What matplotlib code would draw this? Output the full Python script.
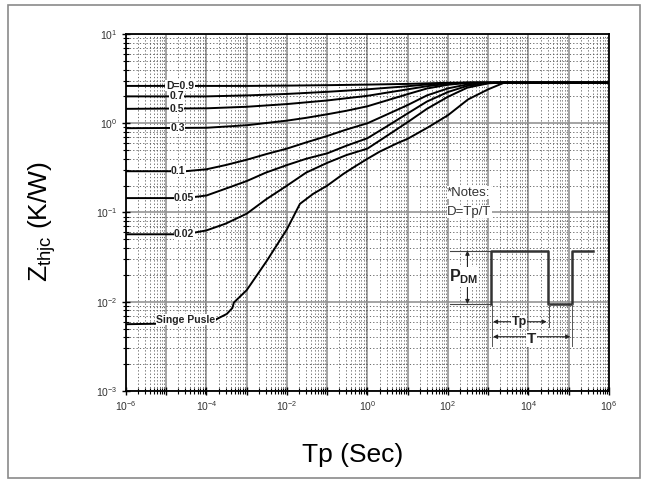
import numpy as np
import matplotlib
matplotlib.use('Agg')
import matplotlib.pyplot as plt
from matplotlib.patches import Rectangle
from matplotlib.ticker import LogLocator, NullFormatter

plt.rcParams['font.family'] = ['Liberation Sans', 'DejaVu Sans']
plt.rcParams['mathtext.fontset'] = 'custom'
plt.rcParams['mathtext.rm'] = 'Liberation Sans'
plt.rcParams['mathtext.it'] = 'Liberation Sans:italic'
plt.rcParams['mathtext.bf'] = 'Liberation Sans:bold'

# transient thermal impedance curves (Tp in s, Zthjc in K/W)
tp_d09 = [1e-6, 1e-3, 1e-2, 1e-1, 1, 10, 30, 100, 300, 1e6]
z_d09 = [2.62, 2.62, 2.64, 2.67, 2.71, 2.76, 2.80, 2.84, 2.85, 2.85]

tp_d07 = [1e-6, 1e-4, 1e-3, 1e-2, 1e-1, 1, 10, 30, 100, 300, 1e6]
z_d07 = [2.0, 2.0, 2.05, 2.13, 2.25, 2.4, 2.6, 2.72, 2.81, 2.85, 2.85]

tp_d05 = [1e-6, 1e-4, 1e-3, 1e-2, 1e-1, 1, 3, 10, 30, 100, 300, 600, 1e6]
z_d05 = [1.45, 1.47, 1.53, 1.64, 1.8, 2.03, 2.2, 2.4, 2.6, 2.77, 2.84, 2.85, 2.85]

tp_d03 = [1e-6, 1e-4, 1e-3, 1e-2, 3e-2, 1e-1, 3e-1, 1, 3, 10, 30, 100, 300, 700, 1e6]
z_d03 = [0.88, 0.89, 0.95, 1.07, 1.15, 1.26, 1.38, 1.55, 1.8, 2.12, 2.45, 2.7, 2.83,
         2.85, 2.85]

tp_d01 = [1e-6, 3e-5, 1e-4, 3e-4, 1e-3, 3e-3, 1e-2, 3e-2, 1e-1, 3e-1, 1, 3, 10, 30,
          100, 300, 1000, 1500, 1e6]
z_d01 = [0.29, 0.29, 0.305, 0.34, 0.39, 0.45, 0.52, 0.61, 0.72, 0.85, 1.0, 1.25, 1.6,
         2.05, 2.46, 2.72, 2.84, 2.85, 2.85]

tp_d005 = [1e-6, 3e-5, 1e-4, 3e-4, 1e-3, 3e-3, 1e-2, 3e-2, 1e-1, 3e-1, 1, 3, 10, 30,
           100, 300, 1000, 1500, 1e6]
z_d005 = [0.145, 0.145, 0.155, 0.185, 0.225, 0.28, 0.34, 0.40, 0.46, 0.56, 0.68, 0.92,
          1.29, 1.75, 2.24, 2.62, 2.83, 2.85, 2.85]

tp_d002 = [1e-6, 3e-5, 1e-4, 3e-4, 1e-3, 3e-3, 1e-2, 3e-2, 1e-1, 3e-1, 1, 3, 10, 30,
           100, 300, 1000, 2000, 1e6]
z_d002 = [0.057, 0.057, 0.063, 0.075, 0.097, 0.14, 0.20, 0.28, 0.36, 0.44, 0.52, 0.72,
          1.03, 1.45, 1.98, 2.5, 2.8, 2.85, 2.85]

tp_single = [1e-6, 1.4e-4, 1.8e-4, 3.2e-4, 4.4e-4, 4.8e-4, 1e-3, 3.2e-3, 1e-2, 2.1e-2,
             4.5e-2, 0.1, 0.25, 0.5, 1, 2, 5.6, 10, 32, 100, 316, 1000, 2500, 1e6]
z_single = [0.0056, 0.0058, 0.0064, 0.0073, 0.0085, 0.0098, 0.0135, 0.029, 0.065, 0.125,
            0.162, 0.20, 0.27, 0.33, 0.40, 0.48, 0.60, 0.67, 0.9, 1.23, 1.85, 2.4, 2.85,
            2.85]

curve_labels = ['D=0.9', '0.7', '0.5', '0.3', '0.1', '0.05', '0.02', 'Singe Pusle']
label_tp = [2.2e-5, 1.8e-5, 1.8e-5, 1.9e-5, 2.0e-5, 2.8e-5, 2.8e-5, 3.1e-5]
label_z = [2.62, 2.0, 1.45, 0.88, 0.29, 0.145, 0.057, 0.0063]

x_ticks = [1e-6, 1e-5, 1e-4, 1e-3, 1e-2, 1e-1, 1, 10, 100, 1e3, 1e4, 1e5, 1e6]
x_tick_labels = ['$10^{-6}$', '', '$10^{-4}$', '', '$10^{-2}$', '', '$10^{0}$', '',
                 '$10^{2}$', '', '$10^{4}$', '', '$10^{6}$']
y_ticks = [1e-3, 1e-2, 1e-1, 1, 10]
y_tick_labels = ['$10^{-3}$', '$10^{-2}$', '$10^{-1}$', '$10^{0}$', '$10^{1}$']

fig = plt.figure(figsize=(6.49, 4.83), dpi=100)
ax = fig.add_axes([0.1941, 0.1905, 0.7442, 0.7391])

curves = [(tp_d09, z_d09), (tp_d07, z_d07), (tp_d05, z_d05), (tp_d03, z_d03),
          (tp_d01, z_d01), (tp_d005, z_d005), (tp_d002, z_d002), (tp_single, z_single)]
for tp, z in curves:
    ax.plot(tp, z, color='black', lw=1.4, solid_joinstyle='round')

for lab, xt, yt in zip(curve_labels, label_tp, label_z):
    ax.text(xt, yt, lab, fontsize=7.5, fontweight='bold', color='#222222',
            ha='center', va='center',
            bbox=dict(facecolor='white', edgecolor='none', pad=0.4))

ax.set_xscale('log')
ax.set_yscale('log')
ax.set_xlim(1e-6, 1e6)
ax.set_ylim(1e-3, 10)
ax.set_xticks(x_ticks)
ax.set_xticklabels(x_tick_labels)
ax.set_yticks(y_ticks)
ax.set_yticklabels(y_tick_labels)
ax.xaxis.set_minor_locator(LogLocator(base=10, subs=np.arange(2, 10), numticks=100))
ax.yaxis.set_minor_locator(LogLocator(base=10, subs=np.arange(2, 10), numticks=100))
ax.xaxis.set_minor_formatter(NullFormatter())
ax.yaxis.set_minor_formatter(NullFormatter())

ax.set_axisbelow(True)
ax.grid(which='major', color='#8c8c8c', lw=1.1, ls='-')
ax.grid(which='minor', color='#555555', lw=0.6, ls=(0, (1.5, 2.5)))
ax.tick_params(which='major', direction='inout', length=6, width=1, labelsize=7.5,
               labelcolor='#333333', pad=3)
ax.tick_params(which='minor', direction='inout', length=4, width=0.8)
for sp in ax.spines.values():
    sp.set_linewidth(1.3)

# pulse sketch (axes fraction)
ta = ax.transAxes
ax.plot([0.671, 0.755], [0.393, 0.393], color='#444444', lw=0.8, transform=ta)
ax.plot([0.671, 0.755], [0.2437, 0.2437], color='#444444', lw=0.8, transform=ta)
ax.plot([0.755, 0.755, 0.874, 0.874, 0.9226, 0.9226, 0.967],
        [0.2437, 0.393, 0.393, 0.2437, 0.2437, 0.393, 0.393],
        color='#333333', lw=1.8, transform=ta)
for xv, y0 in [(0.757, 0.125), (0.876, 0.18), (0.9226, 0.125)]:
    ax.plot([xv, xv], [0.2437, y0], color='#555555', lw=0.7, transform=ta)

arrow = dict(arrowstyle='<|-|>', lw=0.8, color='#222222', mutation_scale=6,
             shrinkA=0, shrinkB=0)
ax.annotate('', xy=(0.707, 0.393), xytext=(0.707, 0.2437), xycoords='axes fraction',
            arrowprops=arrow)
ax.annotate('', xy=(0.760, 0.194), xytext=(0.871, 0.194), xycoords='axes fraction',
            arrowprops=arrow)
ax.annotate('', xy=(0.760, 0.152), xytext=(0.920, 0.152), xycoords='axes fraction',
            arrowprops=arrow)
ax.text(0.70, 0.32, r'$\mathbf{P}_{\mathbf{DM}}$', fontsize=11.5, transform=ta,
        ha='center', va='center', color='#222222',
        bbox=dict(facecolor='white', edgecolor='none', pad=0.5))
ax.text(0.814, 0.194, 'Tp', fontsize=9, fontweight='bold', transform=ta,
        ha='center', va='center', color='#222222',
        bbox=dict(facecolor='white', edgecolor='none', pad=0.5))
ax.text(0.839, 0.145, 'T', fontsize=11, fontweight='bold', transform=ta,
        ha='center', va='center', color='#222222',
        bbox=dict(facecolor='white', edgecolor='none', pad=0.5))
ax.text(0.665, 0.555, '*Notes:', fontsize=9.5, transform=ta, ha='left', va='center',
        color='#333333', bbox=dict(facecolor='white', edgecolor='none', pad=0.3))
ax.text(0.665, 0.502, 'D=Tp/T', fontsize=9.5, transform=ta, ha='left', va='center',
        color='#333333', bbox=dict(facecolor='white', edgecolor='none', pad=0.3))

fig.text(353 / 649, 1 - 455 / 483, 'Tp (Sec)', fontsize=19, ha='center', va='center')
fig.text(42 / 649, 1 - 222 / 483, r'Z$_{\mathrm{thjc}}$ (K/W)', fontsize=19,
         rotation=90, ha='center', va='center')

fig.add_artist(Rectangle((8 / 649, 5 / 483), 632 / 649, 473 / 483,
                         transform=fig.transFigure, fill=False, ec='#8a8a8a', lw=1.2))

fig.savefig('out.png', dpi=100)
